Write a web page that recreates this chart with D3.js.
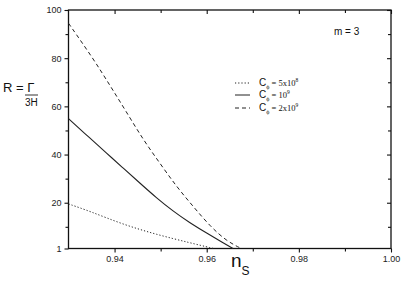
<!DOCTYPE html>
<html>
  <head>
    <meta charset="utf-8">
    <script src="https://d3js.org/d3.v7.min.js"></script>
    <style>
      body { margin: 0; background: white; font-family: "Liberation Sans", Arial, sans-serif; }
      .tick text { fill: #222; }
    </style>
  </head>
  <body>
    <div id="chart"></div>
    <script>
        var width = 415, height = 281;

        // curve data: n_s and R
        var nsDot  = [0.930, 0.9346, 0.9418, 0.9491, 0.9563, 0.9615];
        var rDot   = [19.5, 16.5, 11.0, 6.8, 3.4, 1.0];
        var nsSol  = [0.930, 0.9346, 0.9382, 0.9418, 0.9454, 0.9491, 0.9527, 0.9563, 0.9599, 0.9635, 0.9657];
        var rSol   = [54.9, 46.9, 40.7, 34.5, 28.3, 22.0, 16.5, 11.7, 7.5, 3.4, 1.0];
        var nsDash = [0.930, 0.9353, 0.9389, 0.9425, 0.9462, 0.9498, 0.9534, 0.957, 0.9607, 0.9643, 0.9675];
        var rDash  = [94.5, 80.0, 69.0, 57.9, 46.2, 36.5, 26.8, 18.6, 10.3, 4.1, 1.0];

        var xTicks = [0.94, 0.96, 0.98, 1.00];
        var xMinor = [0.95, 0.97, 0.99];
        var yTicks = [1, 20, 40, 60, 80, 100];
        var yMinor = [10, 30, 50, 70, 90];

        var legendLabels = [" = 5x10", " = 10", " = 2x10"];
        var legendPowers = ["8", "9", "9"];
        var dashes = ["1.2,2", null, "4,3"];

        var mLeft = 68.5, mRight = 391, mTop = 10, mBottom = 248.5;

        var x = d3.scaleLinear().domain([0.93, 1.0]).range([mLeft, mRight]);
        var y = d3.scaleLinear().domain([1, 100]).range([mBottom, mTop]);

        var svg = d3.select("#chart").append("svg")
            .attr("width", width)
            .attr("height", height);

        // axes: bottom/left ticks out, top/right ticks in
        svg.append("g").attr("transform", "translate(0," + mBottom + ")")
            .call(d3.axisBottom(x).tickValues(xTicks).tickFormat(d3.format(".2f")).tickSize(4).tickSizeOuter(0));
        svg.append("g").attr("transform", "translate(0," + mBottom + ")")
            .call(d3.axisBottom(x).tickValues(xMinor).tickFormat("").tickSize(3).tickSizeOuter(0));
        svg.append("g").attr("transform", "translate(0," + mTop + ")")
            .call(d3.axisBottom(x).tickValues(xTicks).tickFormat("").tickSize(4).tickSizeOuter(0));
        svg.append("g").attr("transform", "translate(0," + mTop + ")")
            .call(d3.axisBottom(x).tickValues(xMinor).tickFormat("").tickSize(3).tickSizeOuter(0));

        svg.append("g").attr("transform", "translate(" + mLeft + ",0)")
            .call(d3.axisLeft(y).tickValues(yTicks).tickFormat(d3.format("d")).tickSize(4).tickSizeOuter(0));
        svg.append("g").attr("transform", "translate(" + mLeft + ",0)")
            .call(d3.axisLeft(y).tickValues(yMinor).tickFormat("").tickSize(3).tickSizeOuter(0));
        svg.append("g").attr("transform", "translate(" + mRight + ",0)")
            .call(d3.axisLeft(y).tickValues(yTicks.slice(1)).tickFormat("").tickSize(4).tickSizeOuter(0));
        svg.append("g").attr("transform", "translate(" + mRight + ",0)")
            .call(d3.axisLeft(y).tickValues(yMinor).tickFormat("").tickSize(3).tickSizeOuter(0));

        svg.selectAll(".tick text").attr("font-size", 9).attr("font-family", "Liberation Sans, Arial, sans-serif");
        svg.selectAll(".domain").remove();
        svg.selectAll(".tick line").attr("stroke", "#111").attr("stroke-width", 1.1);

        // frame
        svg.append("rect")
            .attr("x", mLeft).attr("y", mTop)
            .attr("width", mRight - mLeft).attr("height", mBottom - mTop)
            .attr("fill", "none").attr("stroke", "#111").attr("stroke-width", 1.3);

        // curves
        var line = d3.line().curve(d3.curveBasis)
            .x(function(d){ return x(d[0]); })
            .y(function(d){ return y(d[1]); });

        var series = [d3.zip(nsDot, rDot), d3.zip(nsSol, rSol), d3.zip(nsDash, rDash)];
        series.forEach(function(s, i){
            svg.append("path")
                .attr("d", line(s))
                .attr("fill", "none")
                .attr("stroke", "#222")
                .attr("stroke-width", i == 1 ? 1.1 : 1)
                .attr("stroke-dasharray", dashes[i]);
        });

        // legend
        var legY = [83, 95, 108];
        legendLabels.forEach(function(lab, i){
            svg.append("line")
                .attr("x1", 235).attr("x2", 250)
                .attr("y1", legY[i]).attr("y2", legY[i])
                .attr("stroke", "#222").attr("stroke-width", 1)
                .attr("stroke-dasharray", dashes[i]);
            var t = svg.append("text")
                .attr("x", 259).attr("y", legY[i] + 3)
                .attr("font-size", 10)
                .attr("fill", "#111");
            t.append("tspan").attr("font-family", "Liberation Sans, Arial, sans-serif").text("C");
            t.append("tspan").attr("font-family", "Liberation Serif, serif").attr("font-size", 6)
                .attr("dy", 3).text("\u03d5");
            t.append("tspan").attr("font-family", "Liberation Serif, serif").attr("font-size", 8.5)
                .attr("dy", -3).text(lab);
            t.append("tspan").attr("font-family", "Liberation Serif, serif").attr("font-size", 5.5)
                .attr("dy", -4).text(legendPowers[i]);
        });

        // annotation
        svg.append("text")
            .attr("x", 334).attr("y", 35)
            .attr("font-size", 10).attr("fill", "#111")
            .text("m = 3");

        // y label
        svg.append("text")
            .attr("x", 3).attr("y", 92)
            .attr("font-size", 13).attr("fill", "#111")
            .text("R = \u0393");
        svg.append("line")
            .attr("x1", 25).attr("x2", 38).attr("y1", 95).attr("y2", 95)
            .attr("stroke", "#333").attr("stroke-width", 1);
        svg.append("text")
            .attr("x", 25).attr("y", 106)
            .attr("font-size", 10).attr("fill", "#111")
            .text("3H");

        // x label
        var xl = svg.append("text")
            .attr("x", 231).attr("y", 267)
            .attr("font-size", 19).attr("fill", "#111");
        xl.append("tspan").text("n");
        xl.append("tspan").attr("font-size", 12).attr("dy", 8).text("S");
    </script>
  </body>
</html>
